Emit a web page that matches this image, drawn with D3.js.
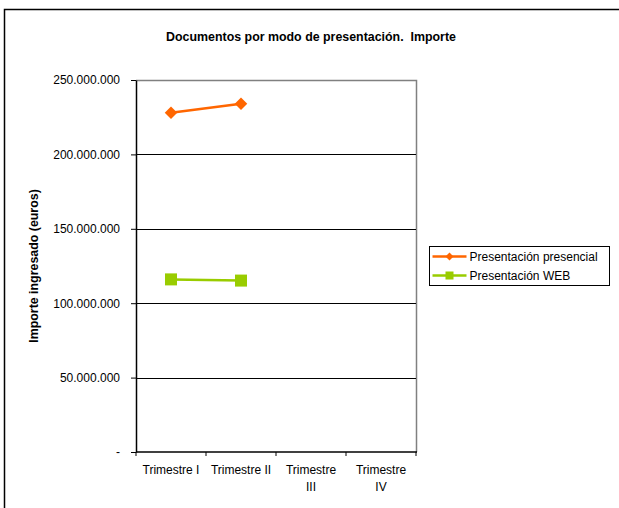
<!DOCTYPE html>
<html>
<head>
<meta charset="utf-8">
<script src="https://cdn.jsdelivr.net/npm/d3@7"></script>
<style>
  body { margin: 0; background: #fff; }
  text { font-family: "Liberation Sans", Arial, sans-serif; fill: #000; white-space: pre; }
</style>
</head>
<body>
<div id="chart"></div>
<script>
// chart data
var quarters = ["Trimestre I", "Trimestre II", "Trimestre III", "Trimestre IV"];
var presencial = [228000000, 234000000, null, null];
var web = [116000000, 115200000, null, null];
var yTicks = [0, 50000000, 100000000, 150000000, 200000000, 250000000];
var seriesNames = ["Presentación presencial", "Presentación WEB"];
var seriesColors = ["#ff6600", "#99cc00"];

var W = 619, H = 508;
var margin = {left: 136, top: 80, right: 203, bottom: 56};
var width = W - margin.left - margin.right,
    height = H - margin.top - margin.bottom;

var svg = d3.select("#chart").append("svg")
    .attr("width", W).attr("height", H);

// outer frame
svg.append("rect")
    .attr("x", 4.5).attr("y", 9.5)
    .attr("width", W + 10).attr("height", H + 10)
    .attr("fill", "none").attr("stroke", "#000").attr("stroke-width", 1.5);

// title
svg.append("text")
    .attr("x", 311).attr("y", 41)
    .attr("text-anchor", "middle")
    .style("font-size", "12.4px").style("font-weight", "bold")
    .text("Documentos por modo de presentación.  Importe");

var g = svg.append("g")
    .attr("transform", "translate(" + margin.left + "," + margin.top + ")");

var x = d3.scaleBand().domain(quarters).range([0, width]);
var y = d3.scaleLinear().domain([0, 250000000]).range([height, 0]);

// plot border (top/right gray)
g.append("path")
    .attr("d", "M0,0.5H" + (width + 0.5) + "V" + height)
    .attr("fill", "none").attr("stroke", "#808080").attr("stroke-width", 1.5);

// gridlines
g.selectAll(".grid")
    .data(yTicks.filter(function(d) { return d > 0 && d < 250000000; }))
    .enter().append("line")
    .attr("x1", 0).attr("x2", width)
    .attr("y1", function(d) { return Math.round(y(d)) + 0.5; })
    .attr("y2", function(d) { return Math.round(y(d)) + 0.5; })
    .attr("stroke", "#000").attr("stroke-width", 1);

// y axis
var fmt = function(d) {
    if (d === 0) return "-";
    return d3.format(",")(d).replace(/,/g, ".");
};
var yAxis = g.append("g")
    .call(d3.axisLeft(y).tickValues(yTicks).tickFormat(fmt).tickSize(5).tickSizeOuter(0).tickPadding(11));
yAxis.select(".domain").attr("stroke", "#000").attr("stroke-width", 1.5);
yAxis.selectAll("text").style("font-size", "12px").attr("fill", "#000")
    .style("font-family", "'Liberation Sans', Arial, sans-serif");

// x axis with ticks at band boundaries
var xAxis = g.append("g").attr("transform", "translate(0," + height + ")");
xAxis.append("line").attr("x1", 0).attr("x2", width + 1)
    .attr("stroke", "#000").attr("stroke-width", 1.5);
xAxis.selectAll(".xtick")
    .data(d3.range(quarters.length + 1))
    .enter().append("line")
    .attr("x1", function(i) { return i * x.bandwidth(); })
    .attr("x2", function(i) { return i * x.bandwidth(); })
    .attr("y1", 0).attr("y2", 4)
    .attr("stroke", "#000");

// category labels (wrapped)
var labelLines = {
    "Trimestre I": ["Trimestre I"],
    "Trimestre II": ["Trimestre II"],
    "Trimestre III": ["Trimestre", "III"],
    "Trimestre IV": ["Trimestre", "IV"]
};
quarters.forEach(function(q) {
    var t = xAxis.append("text")
        .attr("text-anchor", "middle")
        .attr("x", x(q) + x.bandwidth() / 2)
        .attr("y", 22)
        .style("font-size", "12px");
    labelLines[q].forEach(function(l, i) {
        t.append("tspan").attr("x", x(q) + x.bandwidth() / 2)
            .attr("dy", i === 0 ? 0 : 17).text(l);
    });
});

// y axis title
svg.append("text")
    .attr("transform", "translate(38," + (margin.top + height / 2) + ") rotate(-90)")
    .attr("text-anchor", "middle")
    .style("font-size", "12.4px").style("font-weight", "bold")
    .text("Importe ingresado (euros)");

// series lines
var line = d3.line()
    .defined(function(d) { return d != null; })
    .x(function(d, i) { return x(quarters[i]) + x.bandwidth() / 2; })
    .y(function(d) { return y(d); });

[presencial, web].forEach(function(s, k) {
    g.append("path").datum(s)
        .attr("d", line)
        .attr("fill", "none")
        .attr("stroke", seriesColors[k]).attr("stroke-width", 2.5);
});

var diamond = d3.symbol().type(d3.symbolDiamond2).size(100);
g.selectAll(".pmark")
    .data(presencial.map(function(d, i) { return {v: d, i: i}; }).filter(function(d) { return d.v != null; }))
    .enter().append("path")
    .attr("d", diamond)
    .attr("transform", function(d) { return "translate(" + (x(quarters[d.i]) + x.bandwidth() / 2) + "," + y(d.v) + ")"; })
    .attr("fill", seriesColors[0]);

g.selectAll(".wmark")
    .data(web.map(function(d, i) { return {v: d, i: i}; }).filter(function(d) { return d.v != null; }))
    .enter().append("rect")
    .attr("x", function(d) { return x(quarters[d.i]) + x.bandwidth() / 2 - 6; })
    .attr("y", function(d) { return y(d.v) - 6; })
    .attr("width", 12).attr("height", 12)
    .attr("fill", seriesColors[1]);

// legend
var legend = svg.append("g").attr("transform", "translate(429.5,246.5)");
legend.append("rect")
    .attr("width", 180).attr("height", 39)
    .attr("fill", "#fff").attr("stroke", "#000").attr("stroke-width", 1);
seriesNames.forEach(function(n, k) {
    var ly = 10 + k * 19;
    legend.append("line").attr("x1", 3).attr("x2", 37)
        .attr("y1", ly).attr("y2", ly)
        .attr("stroke", seriesColors[k]).attr("stroke-width", 2.5);
    if (k === 0) {
        legend.append("path").attr("d", d3.symbol().type(d3.symbolDiamond2).size(40))
            .attr("transform", "translate(20," + ly + ")").attr("fill", seriesColors[k]);
    } else {
        legend.append("rect").attr("x", 16).attr("y", ly - 4).attr("width", 8).attr("height", 8)
            .attr("fill", seriesColors[k]);
    }
    legend.append("text").attr("x", 40).attr("y", ly + 4)
        .style("font-size", "12px").text(n);
});
</script>
</body>
</html>
